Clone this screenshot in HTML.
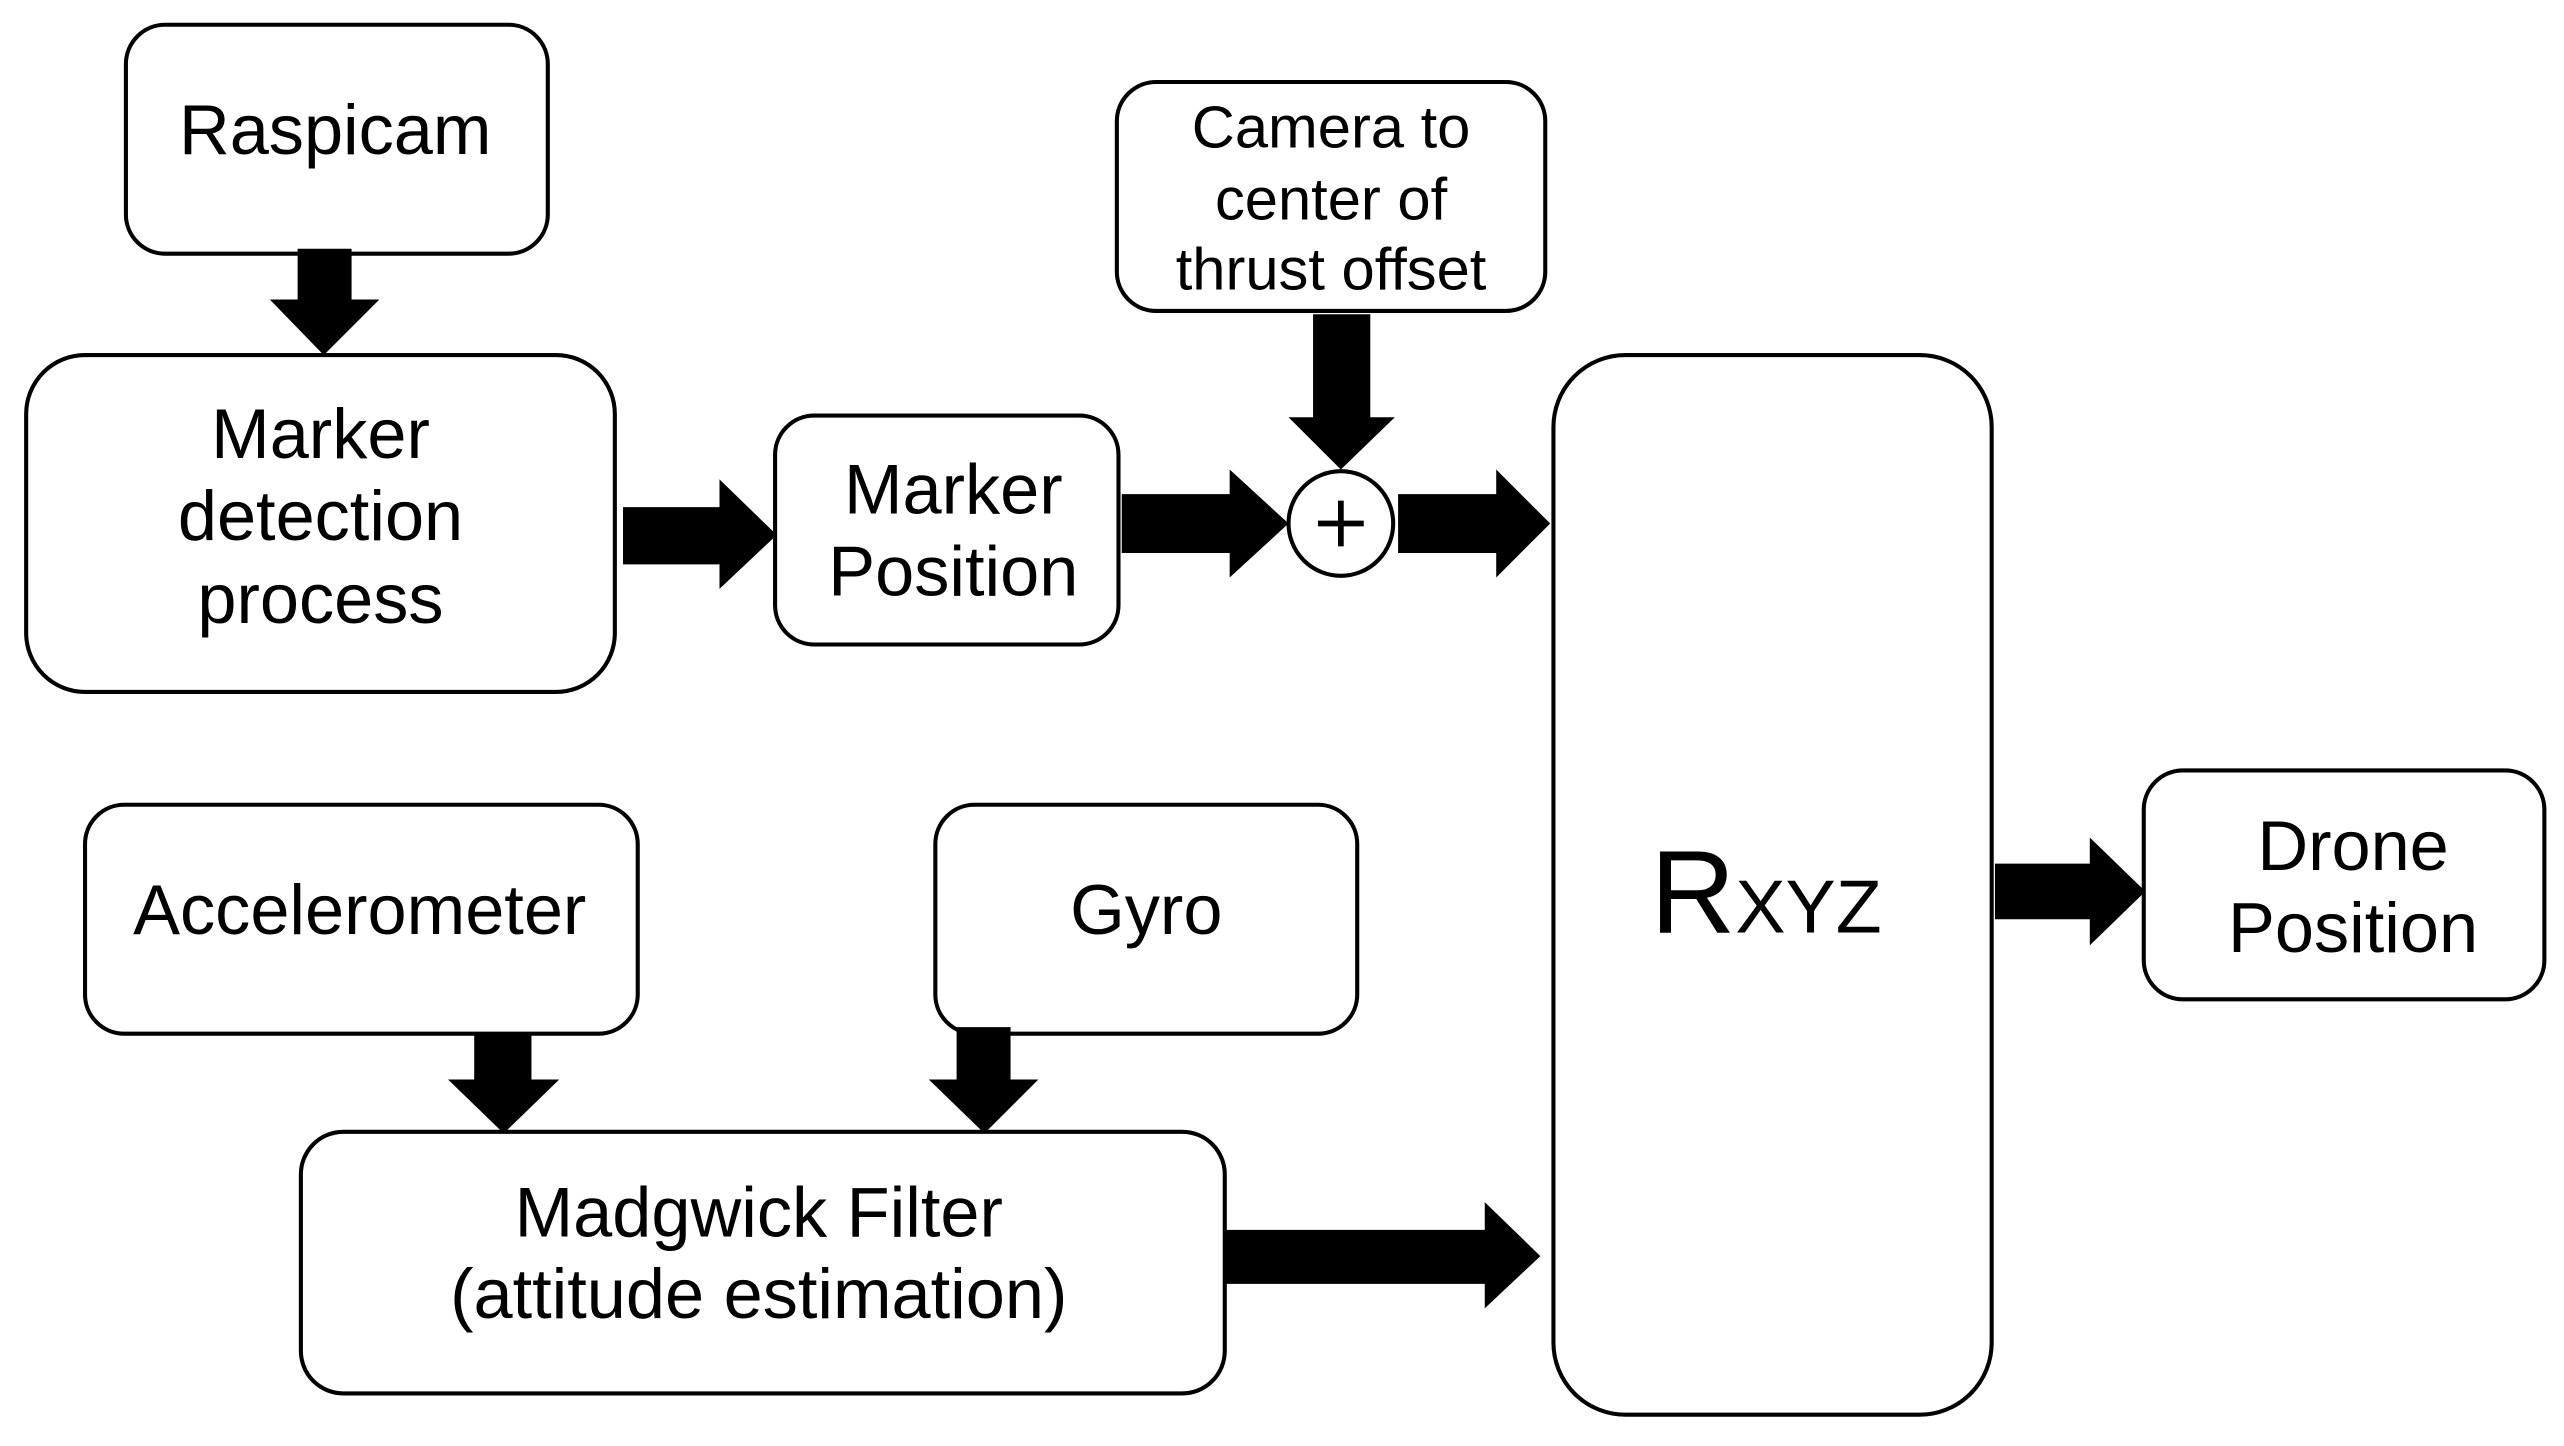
<!DOCTYPE html>
<html><head><meta charset="utf-8"><style>html,body{margin:0;padding:0;background:#fff}svg{display:block}</style></head>
<body>
<svg width="2564" height="1446" viewBox="0 0 1568 884" xmlns="http://www.w3.org/2000/svg" font-family="Liberation Sans, Arial, sans-serif" text-anchor="middle">
<rect width="1568" height="884" fill="#fff"/>
<g fill="#fff" stroke="#000" stroke-width="2.5">
<rect x="77" y="15" width="258" height="140" rx="24"/>
<rect x="16" y="217" width="360" height="206" rx="36"/>
<rect x="474" y="254" width="210" height="140" rx="24"/>
<rect x="683" y="50" width="262" height="140" rx="24"/>
<rect x="950" y="217" width="268" height="648" rx="44"/>
<rect x="1311" y="471" width="245" height="140" rx="24"/>
<rect x="52" y="492" width="338" height="140" rx="24"/>
<rect x="572" y="492" width="258" height="140" rx="24"/>
<rect x="184" y="692" width="565" height="160" rx="26"/>
<circle cx="820" cy="320" r="32"/>
</g>
<g fill="#000">
<polygon points="182,152 215,152 215,183 232,183 198,217 165,183 182,183"/>
<polygon points="381,310 440,310 440,293 475,327 440,360 440,345 381,345"/>
<polygon points="686,302 752,302 752,287 788,320 752,353 752,338 686,338"/>
<polygon points="803,192 838,192 838,255 853,255 820,287 788,255 803,255"/>
<polygon points="855,302 915,302 915,287 948,320 915,353 915,338 855,338"/>
<polygon points="1220,528 1278,528 1278,512 1312,545 1278,578 1278,562 1220,562"/>
<polygon points="290,632 325,632 325,660 342,660 308,693 274,660 290,660"/>
<polygon points="585,628 618,628 618,660 635,660 602,693 568,660 585,660"/>
<polygon points="750,752 908,752 908,735 942,768 908,800 908,785 750,785"/>
</g>
<path d="M806 320H834M820 306V334" stroke="#000" stroke-width="3.5"/>
<g font-size="43" fill="#000">
<text x="205" y="94">Raspicam</text>
<text x="196" y="280">Marker</text>
<text x="196" y="330">detection</text>
<text x="196" y="381">process</text>
<text x="583" y="314">Marker</text>
<text x="583" y="364">Position</text>
<text x="1439" y="532">Drone</text>
<text x="1439" y="582">Position</text>
<text x="220" y="571">Accelerometer</text>
<text x="701" y="571">Gyro</text>
<text x="464" y="756">Madgwick Filter</text>
<text x="464" y="806">(attitude estimation)</text>
</g>
<g font-size="36.5" fill="#000">
<text x="814" y="90">Camera to</text>
<text x="814" y="134">center of</text>
<text x="814" y="177">thrust offset</text>
</g>
<text x="1080" y="570" font-size="72" fill="#000">R<tspan font-size="46">XYZ</tspan></text>
</svg>
</body></html>
